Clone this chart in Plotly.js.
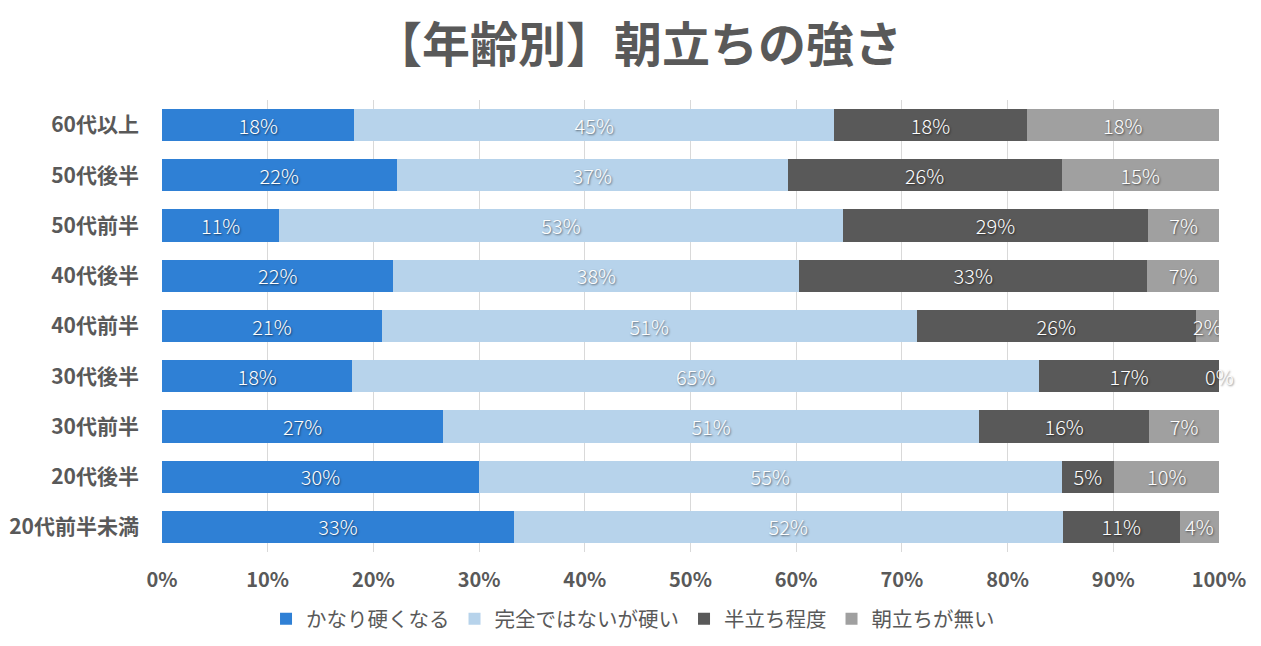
<!DOCTYPE html>
<html>
<head>
<meta charset="utf-8">
<script src="https://cdn.plot.ly/plotly-3.0.1.min.js"></script>
<style>html,body{margin:0;padding:0;background:#fff;}#chart{width:1261px;height:646px;}</style>
</head>
<body>
<div id="chart"></div>
<script>
const categories = ["60代以上","50代後半","50代前半","40代後半","40代前半","30代後半","30代前半","20代後半","20代前半未満"];
const seriesNames = ["かなり硬くなる","完全ではないが硬い","半立ち程度","朝立ちが無い"];
const seriesColors = ["#2F80D5","#B7D3EB","#595959","#A0A0A0"];
const kanari   = [18.2, 22.2, 11.1, 21.9, 20.8, 18.0, 26.6, 30.0, 33.3];
const kanzen   = [45.4, 37.0, 53.3, 38.4, 50.6, 65.0, 50.7, 55.1, 51.9];
const hantachi = [18.2, 25.9, 28.9, 32.9, 26.4, 17.0, 16.1,  5.0, 11.1];
const nashi    = [18.2, 14.9,  6.7,  6.8,  2.2,  0.0,  6.6,  9.9,  3.7];
const xTicks = [0,10,20,30,40,50,60,70,80,90,100];
const xTickText = ["0%","10%","20%","30%","40%","50%","60%","70%","80%","90%","100%"];

const series = [kanari, kanzen, hantachi, nashi];
const FONT = '"Noto Sans CJK JP", "Noto Sans", sans-serif';
const LABEL_FONT = {family: FONT, size: 20, color: '#ffffff', weight: 300, shadow: '1px 1px 2px rgba(0,0,0,0.55)'};

const traces = series.map((vals, i) => ({
  type: 'bar',
  orientation: 'h',
  name: seriesNames[i],
  y: categories,
  x: vals,
  marker: {color: seriesColors[i]},
  text: vals.map(v => v > 0 ? Math.round(v) + '%' : ''),
  textposition: 'inside',
  insidetextanchor: 'middle',
  textangle: 0,
  constraintext: 'none',
  textfont: LABEL_FONT,
  hoverinfo: 'name+x'
}));

// zero-value labels (placed at the cumulative end of the stack)
const annotations = [];
categories.forEach((c, j) => {
  let cum = 0;
  series.forEach((vals, i) => {
    cum += vals[j];
    if (vals[j] === 0) {
      annotations.push({x: cum, y: c, xref: 'x', yref: 'y', text: '0%', showarrow: false, font: LABEL_FONT});
    }
  });
});

const layout = {
  width: 1261, height: 646,
  paper_bgcolor: '#ffffff', plot_bgcolor: '#ffffff',
  margin: {l: 162, r: 42, t: 100, b: 94, autoexpand: false},
  title: {text: '【年齢別】朝立ちの強さ', x: 0.506, xref: 'container', xanchor: 'center', y: 0.93, yref: 'container', yanchor: 'middle',
    font: {family: FONT, size: 48, color: '#595959', weight: 700}},
  barmode: 'stack',
  bargap: 0.36,
  xaxis: {range: [0, 100], tickvals: xTicks, ticktext: xTickText, showgrid: true, gridcolor: '#D9D9D9', gridwidth: 1,
    zeroline: false, showline: false, ticks: '', ticklen: 0, ticklabelstandoff: 14,
    tickfont: {family: FONT, size: 20, color: '#595959', weight: 700}, fixedrange: true, automargin: false},
  yaxis: {type: 'category', autorange: 'reversed', showgrid: false, zeroline: false, showline: false, ticks: '',
    ticklabelstandoff: 22, automargin: false,
    tickfont: {family: FONT, size: 21, color: '#595959', weight: 700}, fixedrange: true},
  uniformtext: {mode: 'show', minsize: 20},
  showlegend: true,
  legend: {orientation: 'h', x: 0.502, xref: 'container', xanchor: 'center', y: 0.042, yref: 'container', yanchor: 'middle',
    traceorder: 'normal', font: {family: FONT, size: 20.5, color: '#595959'}, itemwidth: 30},
  annotations: annotations
};

Plotly.newPlot('chart', traces, layout, {displayModeBar: false, staticPlot: true});
</script>
</body>
</html>
